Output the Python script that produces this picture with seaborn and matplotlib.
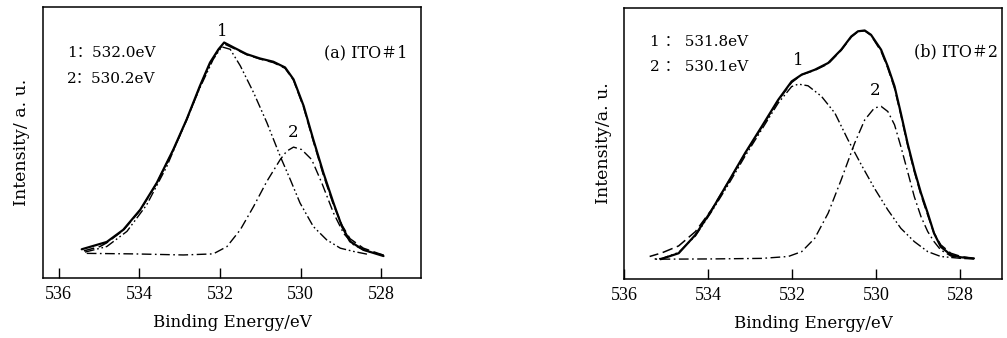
import numpy as np
import pandas as pd
import seaborn as sns
import matplotlib
matplotlib.use("Agg")
import matplotlib.pyplot as plt

# ---- data (binding energy in eV, intensity in a.u.) ----
# panel (a) ITO#1
a_env_x = [535.43, 534.81, 534.40, 533.98, 533.57, 533.16, 532.83, 532.50, 532.25, 532.04,
           531.90, 531.67, 531.34, 531.01, 530.68, 530.39, 530.18, 529.93, 529.69, 529.44,
           529.19, 528.98, 528.78, 528.45, 527.95]
a_env_y = [10.6, 13.3, 17.8, 25.2, 35.1, 47.4, 58.5, 70.9, 79.5, 84.4,
           86.9, 85.1, 82.6, 81.0, 79.8, 77.7, 73.3, 63.5, 51.1, 38.8,
           27.7, 19.0, 13.5, 10.4, 8.1]
a_fit_x = [535.43, 534.98, 534.81, 534.40, 533.98, 533.57, 533.16, 532.83, 532.50, 532.25,
           532.04, 531.90, 531.67, 531.34, 531.01, 530.68, 530.39, 530.18, 529.93, 529.69,
           529.44, 529.19, 528.98, 528.78, 528.45, 527.95]
a_fit_y = [9.8, 11.6, 13.0, 17.6, 25.0, 35.0, 47.2, 58.3, 70.6, 79.2,
           84.2, 86.4, 84.8, 82.4, 80.8, 79.5, 77.4, 73.0, 63.0, 50.5,
           38.0, 27.0, 19.5, 14.5, 11.0, 8.4]
a_p1_x = [535.39, 534.81, 534.31, 533.82, 533.32, 532.83, 532.50, 532.17, 531.96, 531.75,
          531.50, 531.17, 530.84, 530.51, 530.26, 530.02, 529.69, 529.36, 529.02, 528.69, 528.36]
a_p1_y = [9.4, 11.6, 17.2, 27.0, 41.2, 58.5, 70.2, 80.7, 85.3, 84.4,
          78.3, 68.4, 57.3, 44.9, 36.3, 27.7, 19.0, 14.1, 11.0, 9.8, 8.8]
a_p2_x = [535.39, 534.15, 532.91, 532.17, 531.83, 531.50, 531.17, 530.84, 530.51, 530.35,
          530.18, 529.98, 529.73, 529.48, 529.19, 528.94, 528.69, 528.36, 527.95]
a_p2_y = [9.1, 8.9, 8.5, 8.9, 11.6, 17.8, 26.4, 35.7, 43.7, 46.8,
          48.3, 47.4, 43.7, 35.1, 24.0, 16.5, 12.2, 9.8, 8.5]

# panel (b) ITO#2
b_env_x = [535.13, 534.70, 534.30, 533.91, 533.51, 533.12, 532.72, 532.33, 532.01, 531.77,
           531.46, 531.14, 530.83, 530.59, 530.43, 530.27, 530.12, 529.88, 529.72, 529.56,
           529.41, 529.25, 529.09, 528.93, 528.77, 528.62, 528.46, 528.22, 527.98, 527.67]
b_env_y = [7.3, 9.5, 16.3, 25.5, 36.0, 46.4, 56.3, 66.1, 72.9, 75.4,
           77.2, 79.7, 84.6, 89.5, 91.4, 91.7, 90.1, 84.6, 78.4, 71.1,
           61.2, 50.1, 40.3, 31.7, 24.3, 16.9, 11.9, 8.9, 8.0, 7.6]
b_fit_x = [535.39, 535.09, 534.70, 534.30, 533.91, 533.51, 533.12, 532.72, 532.33, 532.01,
           531.77, 531.46, 531.14, 530.83, 530.59, 530.43, 530.27, 530.12, 529.88, 529.72,
           529.56, 529.41, 529.25, 529.09, 528.93, 528.77, 528.62, 528.46, 528.22, 527.98, 527.67]
b_fit_y = [8.3, 9.7, 12.2, 17.5, 25.7, 36.0, 46.2, 56.0, 65.9, 72.5,
           75.4, 77.0, 79.4, 84.4, 89.3, 91.3, 91.6, 89.9, 84.0, 77.8,
           70.4, 60.6, 49.5, 39.7, 31.0, 23.6, 16.9, 12.6, 9.5, 8.3, 7.5]
b_p1_x = [535.33, 535.09, 534.70, 534.30, 533.91, 533.51, 533.12, 532.72, 532.33, 532.01,
          531.85, 531.62, 531.30, 530.98, 530.67, 530.35, 530.04, 529.72, 529.41, 529.09,
          528.77, 528.46, 527.98]
b_p1_y = [7.3, 7.6, 9.8, 15.9, 25.0, 35.0, 45.3, 55.2, 64.9, 71.0,
          71.9, 71.3, 67.4, 61.2, 51.4, 42.1, 33.5, 25.5, 18.7, 13.8,
          10.1, 8.3, 7.6]
b_p2_x = [535.33, 533.91, 532.72, 532.09, 531.77, 531.46, 531.14, 530.83, 530.51, 530.27,
          530.04, 529.88, 529.72, 529.56, 529.41, 529.25, 529.09, 528.93, 528.77, 528.62,
          528.46, 528.22, 527.98, 527.67]
b_p2_y = [7.3, 7.4, 7.6, 8.3, 10.1, 15.0, 24.3, 36.6, 50.1, 58.7,
          63.1, 63.7, 61.8, 56.9, 48.9, 39.7, 30.4, 23.0, 17.5, 13.8,
          10.7, 8.5, 7.6, 7.4]

ticks = [536, 534, 532, 530, 528]
peak_text_a = ["1\uff1a532.0eV", "2\uff1a530.2eV"]
peak_text_b = ["1 \uff1a 531.8eV", "2 \uff1a 530.1eV"]
panel_titles = ["(a) ITO\uff031", "(b) ITO\uff032"]

sns.set_style("white")
plt.rcParams['font.family'] = ['Liberation Serif', 'Noto Sans CJK SC', 'DejaVu Sans']
plt.rcParams['axes.linewidth'] = 1.1
plt.rcParams['axes.edgecolor'] = 'black'
plt.rcParams['text.color'] = 'black'
plt.rcParams['axes.labelcolor'] = 'black'
plt.rcParams['xtick.color'] = 'black'
wide_serif = ['DejaVu Serif', 'Noto Sans CJK SC']

fig = plt.figure(figsize=(10.07, 3.38), dpi=100)
ax_a = fig.add_axes([0.0427, 0.1775, 0.3754, 0.8018])
ax_b = fig.add_axes([0.6197, 0.1746, 0.3754, 0.8018])

# line styles: measured envelope, fitted sum, component 1, component 2
styles = {
    'env': dict(color='black', linewidth=1.6, linestyle='-'),
    'fit': dict(color='black', linewidth=1.1, linestyle=(0, (7, 3))),
    'p1': dict(color='black', linewidth=1.0, linestyle=(0, (7, 2, 1.2, 2, 1.2, 2))),
    'p2': dict(color='black', linewidth=1.0, linestyle=(0, (7, 2.5, 1.2, 2.5))),
}


def draw_panel(ax, curves, xlim, ylab):
    for key, (xs, ys) in curves.items():
        df = pd.DataFrame({'energy': xs, 'intensity': ys})
        sns.lineplot(data=df, x='energy', y='intensity', ax=ax, **styles[key])
    ax.set_xlim(*xlim)
    ax.set_ylim(0, 100)
    ax.set_xticks(ticks)
    ax.set_xticklabels([str(t) for t in ticks])
    ax.set_yticks([])
    ax.tick_params(axis='x', bottom=True, direction='in', length=7, width=1.0,
                   labelsize=13, pad=6, color='black', labelcolor='black')
    ax.set_xlabel('Binding Energy/eV', fontsize=12, labelpad=8, family=wide_serif)
    ax.set_ylabel(ylab, fontsize=12.5, labelpad=9, family=wide_serif)
    for s in ax.spines.values():
        s.set_visible(True)
        s.set_color('black')


draw_panel(ax_a, {'env': (a_env_x, a_env_y), 'fit': (a_fit_x, a_fit_y),
                  'p1': (a_p1_x, a_p1_y), 'p2': (a_p2_x, a_p2_y)}, (536.39, 527.02),
           'Intensity/ a. u.')
draw_panel(ax_b, {'env': (b_env_x, b_env_y), 'fit': (b_fit_x, b_fit_y),
                  'p1': (b_p1_x, b_p1_y), 'p2': (b_p2_x, b_p2_y)}, (536.0, 527.0),
           'Intensity/a. u.')

# annotations panel (a)
ax_a.text(0.063, 0.83, peak_text_a[0], transform=ax_a.transAxes, fontsize=11, va='center', family=wide_serif)
ax_a.text(0.063, 0.734, peak_text_a[1], transform=ax_a.transAxes, fontsize=11, va='center', family=wide_serif)
ax_a.text(0.965, 0.83, panel_titles[0], transform=ax_a.transAxes, fontsize=11.5,
          va='center', ha='right', family=wide_serif)
ax_a.text(531.95, 91.0, '1', fontsize=12, ha='center', va='center', family=wide_serif)
ax_a.text(530.19, 53.7, '2', fontsize=12, ha='center', va='center', family=wide_serif)

# annotations panel (b)
ax_b.text(0.069, 0.875, peak_text_b[0], transform=ax_b.transAxes, fontsize=11, va='center', family=wide_serif)
ax_b.text(0.069, 0.782, peak_text_b[1], transform=ax_b.transAxes, fontsize=11, va='center', family=wide_serif)
ax_b.text(0.99, 0.838, panel_titles[1], transform=ax_b.transAxes, fontsize=11.5,
          va='center', ha='right', family=wide_serif)
ax_b.text(531.85, 80.8, '1', fontsize=12, ha='center', va='center', family=wide_serif)
ax_b.text(530.02, 69.4, '2', fontsize=12, ha='center', va='center', family=wide_serif)

fig.savefig('out.png', dpi=100)
